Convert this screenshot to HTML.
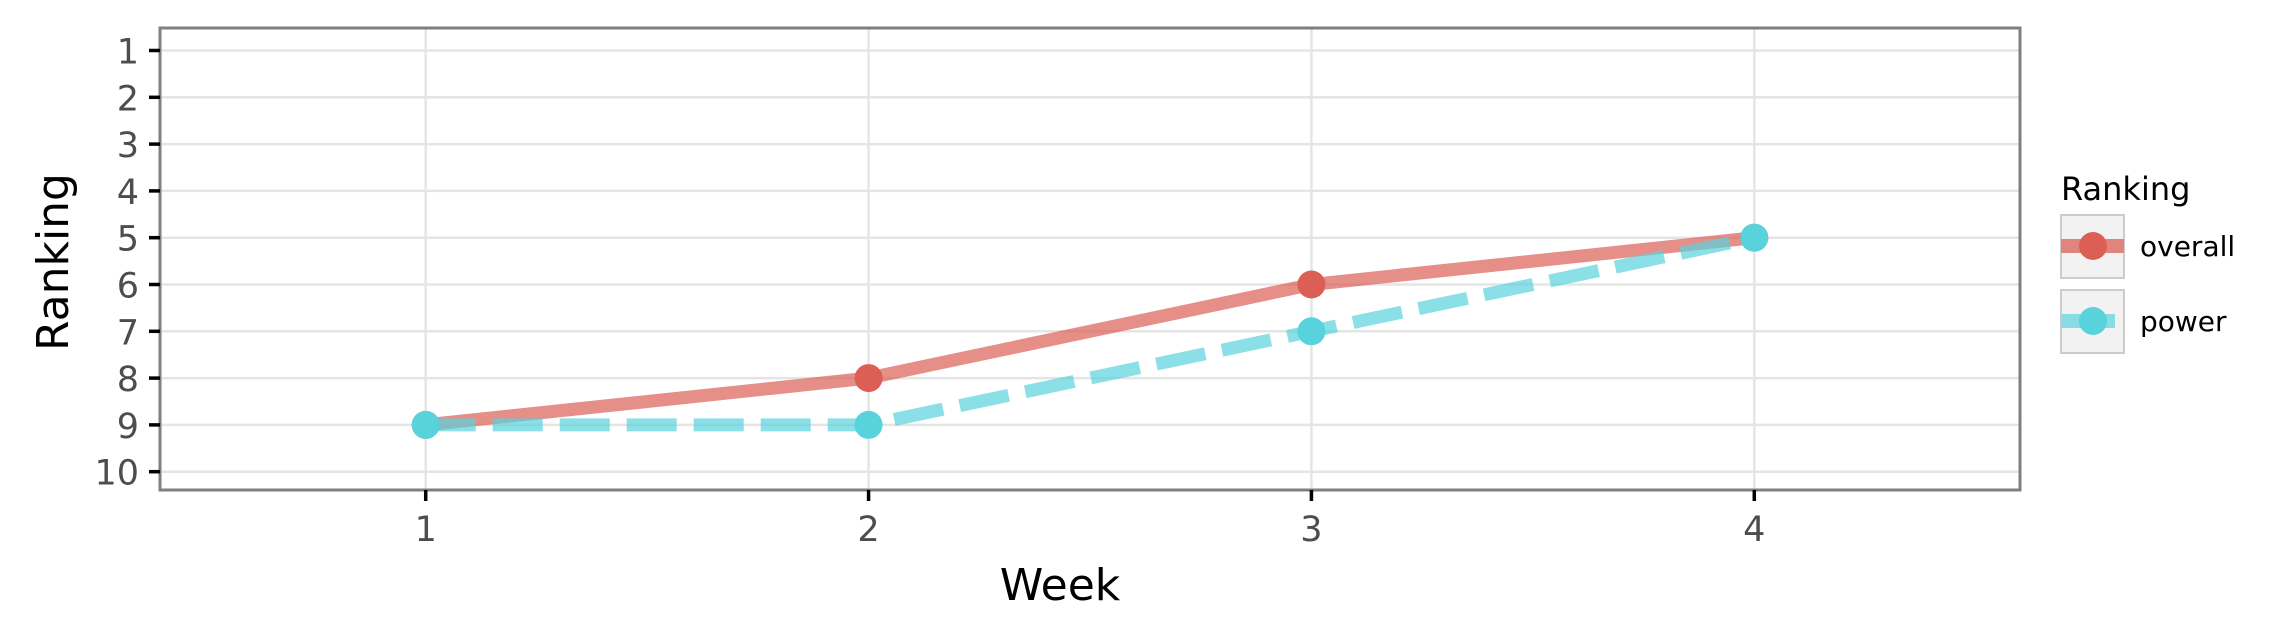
<!DOCTYPE html>
<html><head><meta charset="utf-8"><style>
html,body{margin:0;padding:0;background:#fff;}
svg{display:block;font-family:"DejaVu Sans","Liberation Sans",sans-serif;}
</style></head><body>
<svg id="chart" width="2276" height="641" viewBox="0 0 2276 641" xmlns="http://www.w3.org/2000/svg">
<rect x="0" y="0" width="2276" height="641" fill="#fff"/>
<g id="grid"></g>
<g id="series"></g>
<rect x="160" y="28" width="1860" height="462" fill="none" stroke="#7f7f7f" stroke-width="3"/>
<g id="axes"></g>
<text x="1060" y="600" font-size="44" text-anchor="middle" fill="#000">Week</text>
<text transform="translate(68,262) rotate(-90)" font-size="44" text-anchor="middle" fill="#000">Ranking</text>
<g>
<text x="2061" y="200" font-size="32" fill="#000">Ranking</text>
<g>
<rect x="2061" y="215" width="63" height="63" fill="#f2f2f2" stroke="#cccccc" stroke-width="2"/>
<line x1="2061" y1="246" x2="2124" y2="246" stroke="#e0857d" stroke-width="14"/>
<circle cx="2093" cy="246" r="14" fill="#dc5f56"/>
<text x="2140" y="256" font-size="28" fill="#000">overall</text>
</g>
<g>
<rect x="2061" y="290" width="63" height="63" fill="#f2f2f2" stroke="#cccccc" stroke-width="2"/>
<line x1="2061" y1="321" x2="2115" y2="321" stroke="#87dde3" stroke-width="14"/>
<circle cx="2093" cy="321" r="14" fill="#58d3db"/>
<text x="2140" y="331" font-size="28" fill="#000">power</text>
</g>
</g>
</svg>
<script>
const weeks = [1, 2, 3, 4];
const overall = [9, 8, 6, 5];
const power = [9, 9, 7, 5];
const yTicks = [1,2,3,4,5,6,7,8,9,10];
const xTicks = [1,2,3,4];

const NS = "http://www.w3.org/2000/svg";
function xs(v){ return 160 + (v - 0.4) / 4.2 * 1860; }
function ys(v){ return 50.5 + (v - 1) * 46.8; }
function mk(tag, attrs, parent){ const e = document.createElementNS(NS, tag); for (const k in attrs) e.setAttribute(k, attrs[k]); parent.appendChild(e); return e; }
const grid = document.getElementById('grid'), axes = document.getElementById('axes'), series = document.getElementById('series');

yTicks.forEach(t => {
  const g = mk('line', {x1:160, x2:2020, y1:ys(t), y2:ys(t), stroke:'#e5e5e5', 'stroke-width':2.5}, grid);
  
  
  const tk = mk('line', {x1:149, x2:160, y1:ys(t), y2:ys(t), stroke:'#000', 'stroke-width':3.5}, axes);
  
  
  const lb = mk('text', {x:139, y:ys(t)+13, 'font-size':35, 'text-anchor':'end', fill:'#4d4d4d'}, axes);
  lb.textContent = t;
  
  
});
xTicks.forEach(t => {
  const g = mk('line', {x1:xs(t), x2:xs(t), y1:28, y2:490, stroke:'#e5e5e5', 'stroke-width':2.5}, grid);
  
  
  const tk = mk('line', {x1:xs(t), x2:xs(t), y1:490, y2:501, stroke:'#000', 'stroke-width':3.5}, axes);
  
  
  const lb = mk('text', {x:xs(t), y:541, 'font-size':35, 'text-anchor':'middle', fill:'#4d4d4d'}, axes);
  lb.textContent = t;
  
  
});

function drawSeries(vals, lineColor, dash, name){
  const pts = weeks.map((w,i) => xs(w) + ',' + ys(vals[i])).join(' ');
  const attrs = {points:pts, fill:'none', stroke:lineColor, 'stroke-width':13};
  if (dash) attrs['stroke-dasharray'] = dash;
  const pl = mk('polyline', attrs, series);
  
  
}
function drawPoints(vals, ptColor, name){
  weeks.forEach((w,i) => {
    const c = mk('circle', {cx:xs(w), cy:ys(vals[i]), r:14, fill:ptColor}, series);
    
    
  });
}
drawSeries(overall, 'rgba(220,95,86,0.7)', null, 'overall');
drawSeries(power, 'rgba(88,211,219,0.7)', '50 17', 'power');
drawPoints(overall, '#dc5f56', 'overall');
drawPoints(power, '#58d3db', 'power');
</script>
</body></html>
